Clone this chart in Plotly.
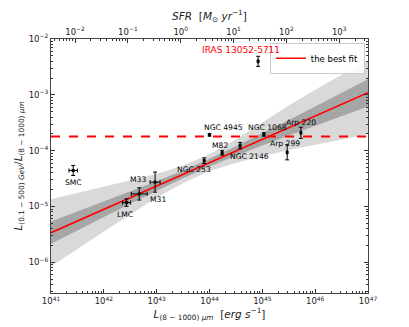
import numpy as np
import plotly.graph_objects as go

# galaxies: log10 L_IR [erg/s], log10 ratio, errors in dex
NAMES = ['SMC', 'LMC', 'M33', 'M31', 'NGC 253', 'M82', 'NGC 4945',
         'NGC 2146', 'NGC 1068', 'Arp 299', 'Arp 220', 'IRAS 13052-5711']
LOG_L = [41.42, 42.43, 42.67, 42.97, 43.90, 44.24, 44.00,
         44.58, 45.03, 45.47, 45.73, 44.92]
LOG_R = [-4.355, -4.93, -4.775, -4.564, -4.18, -4.04, -3.717,
         -3.91, -3.71, -4.03, -3.68, -2.40]
ERR_L = [0.08, 0.076, 0.15, 0.095, 0.0, 0.0, 0.0,
         0.0, 0.0, 0.0, 0.0, 0.0]
ERR_R = [0.09, 0.066, 0.11, 0.18, 0.05, 0.04, 0.02,
         0.055, 0.03, 0.135, 0.10, 0.09]

# best fit and its bands (log10 ratio read at the grid points)
BAND_LOG_L = [41, 41.5, 42, 42.5, 43, 43.5, 44, 44.5, 45, 45.5, 46, 46.5, 47]
DARK_UP = [-5.27, -5.09, -4.91, -4.73, -4.55, -4.355, -4.145, -3.92, -3.69, -3.45, -3.21, -2.96, -2.72]
DARK_LO = [-5.67, -5.43, -5.19, -4.95, -4.72, -4.495, -4.285, -4.09, -3.91, -3.73, -3.55, -3.38, -3.21]
LIGHT_UP = [-4.87, -4.76, -4.65, -4.54, -4.42, -4.265, -4.065, -3.80, -3.50, -3.19, -2.91, -2.64, -2.39]
LIGHT_LO = [-6.07, -5.76, -5.45, -5.14, -4.84, -4.585, -4.365, -4.22, -4.10, -3.99, -3.89, -3.80, -3.70]
FIT_LOG_L = [41.0, 47.0]
FIT_LOG_R = [-5.47, -2.962]
DASH_LEVEL = 1.79e-4

SFR_PER_L = 3.5e-44  # top axis conversion

# label offsets in pixels (dx, dy)
OFFSETS = {
    'SMC': (0, -12), 'LMC': (-2, -12), 'M33': (-1, 14), 'M31': (3, -17),
    'NGC 253': (-10, -9), 'M82': (-2, 7), 'NGC 4945': (14, 7),
    'NGC 2146': (9, -11), 'NGC 1068': (4, 7), 'Arp 299': (-2, 9),
    'Arp 220': (0, 10), 'IRAS 13052-5711': (-17, 11),
}

FONT = 'DejaVu Sans, Arial, sans-serif'

L = 10.0 ** np.array(LOG_L)
R = 10.0 ** np.array(LOG_R)
eL = np.array(ERR_L)
eR = np.array(ERR_R)
bL = 10.0 ** np.array(BAND_LOG_L, dtype=float)


def band(up, lo, color):
    return go.Scatter(
        x=np.concatenate([bL, bL[::-1]]),
        y=np.concatenate([10.0 ** np.array(up), 10.0 ** np.array(lo)[::-1]]),
        fill='toself', fillcolor=color, line=dict(width=0),
        mode='lines', hoverinfo='skip', showlegend=False,
    )


fig = go.Figure()
fig.add_trace(band(LIGHT_UP, LIGHT_LO, '#d9d9d9'))
fig.add_trace(band(DARK_UP, DARK_LO, '#a6a6a6'))

fig.add_trace(go.Scatter(
    x=[10.0 ** v for v in FIT_LOG_L], y=[10.0 ** v for v in FIT_LOG_R],
    mode='lines', line=dict(color='red', width=1.6), name='the best fit',
))
fig.add_trace(go.Scatter(
    x=[1e41, 1e47], y=[DASH_LEVEL, DASH_LEVEL], mode='lines',
    line=dict(color='red', width=2, dash='dash'), showlegend=False,
))

fig.add_trace(go.Scatter(
    x=L, y=R, mode='markers',
    marker=dict(color='black', size=3, symbol='square'),
    error_x=dict(type='data', array=L * (10 ** eL - 1), arrayminus=L * (1 - 10 ** -eL),
                 color='black', thickness=1, width=2),
    error_y=dict(type='data', array=R * (10 ** eR - 1), arrayminus=R * (1 - 10 ** -eR),
                 color='black', thickness=1, width=2),
    showlegend=False,
))

# invisible trace so the top SFR axis exists
fig.add_trace(go.Scatter(
    x=[1e41 * SFR_PER_L, 1e47 * SFR_PER_L], y=[1e-3, 1e-3], xaxis='x2',
    mode='markers', marker=dict(opacity=0), hoverinfo='skip', showlegend=False,
))

for name, lx, ly in zip(NAMES, L, R):
    dx, dy = OFFSETS[name]
    red = name.startswith('IRAS')
    fig.add_annotation(
        x=np.log10(lx), y=np.log10(ly), text=name, showarrow=False,
        xshift=dx, yshift=dy,
        font=dict(size=9 if red else 7.6, color='red' if red else 'black'),
    )


def sup(n):
    return f'10<sup>{str(n).replace("-", "−")}</sup>'


def minors(lo, hi):
    return [m * 10.0 ** d for d in range(lo, hi) for m in range(2, 10)]


axis_common = dict(
    type='log', showgrid=False, zeroline=False, ticks='inside', ticklen=4,
    tickcolor='#333', showline=True, linecolor='#444', linewidth=1,
    tickfont=dict(size=8.5, color='#222'), automargin=False,
)

# page body adds an 8px offset, so the figure is a bit smaller than the window
fig.update_layout(
    width=401, height=319,
    margin=dict(l=43, r=41, t=31, b=34),
    paper_bgcolor='white', plot_bgcolor='white',
    font=dict(family=FONT, color='#222'),
    xaxis=dict(
        **axis_common, range=[41, 47], mirror=True,
        tickvals=[10.0 ** k for k in range(41, 48)],
        ticktext=[sup(k) for k in range(41, 48)],
        minor=dict(tickvals=minors(41, 47), ticks='inside', ticklen=2, tickcolor='#333'),
        title=dict(text='<i>L</i><sub>(8 − 1000) <i>μm</i></sub>  [<i>erg s</i><sup>−1</sup>]',
                   font=dict(size=10.5), standoff=2),
    ),
    xaxis2=dict(
        **axis_common, overlaying='x', side='top', anchor='y',
        range=[41 + np.log10(SFR_PER_L), 47 + np.log10(SFR_PER_L)],
        tickvals=[10.0 ** k for k in range(-2, 4)],
        ticktext=[sup(k) for k in range(-2, 4)],
        minor=dict(tickvals=minors(-3, 4), ticks='inside', ticklen=2, tickcolor='#333'),
        title=dict(text='<i>SFR</i>  [<i>M</i><sub>⊙</sub> <i>yr</i><sup>−1</sup>]',
                   font=dict(size=10.5), standoff=2),
    ),
    yaxis=dict(
        **axis_common, range=[-6.55, -2], mirror='ticks',
        tickvals=[10.0 ** k for k in range(-6, -1)],
        ticktext=[sup(k) for k in range(-6, -1)],
        minor=dict(tickvals=minors(-7, -2), ticks='inside', ticklen=2, tickcolor='#333'),
        title=dict(text='<i>L</i><sub>(0.1 − 500) <i>GeV</i></sub>/<i>L</i><sub>(8 − 1000) <i>μm</i></sub>',
                   font=dict(size=10.5), standoff=4),
    ),
    legend=dict(
        x=0.99, y=0.985, xanchor='right', yanchor='top',
        bgcolor='rgba(255,255,255,0.85)', bordercolor='#ccc', borderwidth=1,
        font=dict(size=8.5, color='black'), itemwidth=30, tracegroupgap=0,
    ),
    showlegend=True,
)

fig.write_html('out.html')
